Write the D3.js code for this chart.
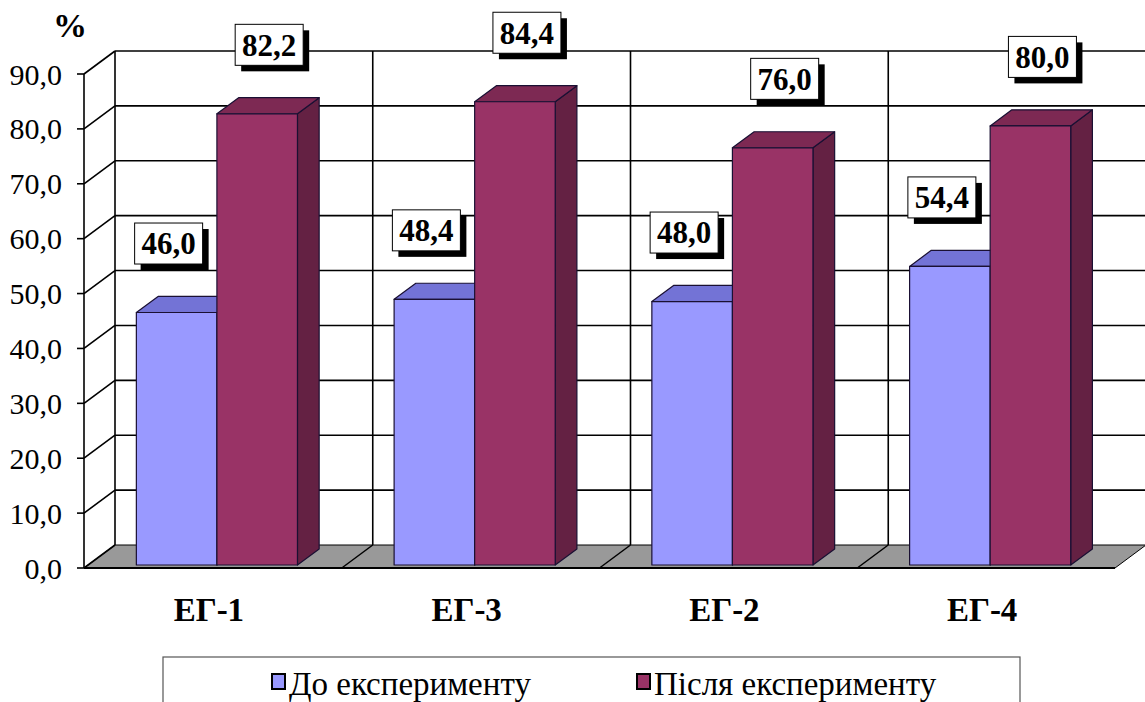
<!DOCTYPE html>
<html>
<head>
<meta charset="utf-8">
<script src="https://cdn.jsdelivr.net/npm/d3@7"></script>
<style>
  html, body { margin: 0; padding: 0; background: #fff; }
  svg { display: block; }
</style>
</head>
<body>
<script>
// ---- data ----
const categories = ["ЕГ-1", "ЕГ-3", "ЕГ-2", "ЕГ-4"];
const seriesNames = ["До експерименту", "Після експерименту"];
const beforeValues = [46.0, 48.4, 48.0, 54.4];
const afterValues = [82.2, 84.4, 76.0, 80.0];
const yTickValues = [0, 10, 20, 30, 40, 50, 60, 70, 80, 90];
const yUnit = "%";

// ---- layout ----
const W = 1145, H = 702;
const FONT = "'Liberation Serif', 'Times New Roman', 'DejaVu Serif', serif";
const svg = d3.select("body").append("svg").attr("width", W).attr("height", H)
  .attr("font-family", FONT).style("font-family", FONT);

const frontLeft = 84, frontRight = 1115;
const depthDX = 31, depthDY = -23;
const barZ0 = 0.13, barZ1 = 0.83;
const y = d3.scaleLinear().domain([0, 90]).range([568, 74]);
const x = d3.scaleBand().domain(categories).range([frontLeft, frontRight]).paddingInner(0).paddingOuter(0);
const groupFrac = 0.625;
const xs = d3.scaleBand().domain(seriesNames).range([0, x.bandwidth() * groupFrac]);

const fmt = v => d3.format(".1f")(v).replace(".", ",");
const P = (px, v, z) => [px + z * depthDX, y(v) + z * depthDY];
const poly = pts => pts.map(p => p.join(",")).join(" ");

const colors = {
  [seriesNames[0]]: { front: "#9999FF", top: "#7373D6", side: "#6B6BB3" },
  [seriesNames[1]]: { front: "#993366", top: "#7D2953", side: "#642143" }
};

// floor
const floor = svg.append("g");
floor.append("polygon")
  .attr("points", poly([P(frontLeft, 0, 0), P(frontLeft, 0, 1), P(frontRight, 0, 1), P(frontRight, 0, 0)]))
  .attr("fill", "#999999").attr("stroke", "#000").attr("stroke-width", 1);
categories.slice(1).forEach(c => {
  const px = x(c);
  floor.append("line")
    .attr("x1", P(px, 0, 0)[0]).attr("y1", P(px, 0, 0)[1])
    .attr("x2", P(px, 0, 1)[0]).attr("y2", P(px, 0, 1)[1])
    .attr("stroke", "#000").attr("stroke-width", 1.5);
});

// back wall gridlines + side wall diagonals
const grid = svg.append("g").attr("stroke", "#000").attr("stroke-width", 1.6).attr("fill", "none");
yTickValues.forEach(v => {
  const a = P(frontLeft, v, 1), f = P(frontLeft, v, 0);
  if (v !== 0) {
    const b = P(frontRight + 40, v, 1);
    grid.append("line").attr("x1", a[0]).attr("y1", a[1]).attr("x2", b[0]).attr("y2", b[1]);
  }
  grid.append("line").attr("x1", f[0]).attr("y1", f[1]).attr("x2", a[0]).attr("y2", a[1]);
});
categories.forEach(c => {
  const px = x(c);
  const a = P(px, 0, 1), b = P(px, 90, 1);
  grid.append("line").attr("x1", a[0]).attr("y1", a[1]).attr("x2", b[0]).attr("y2", b[1]);
});

// front y axis
const axisG = svg.append("g");
axisG.append("line").attr("x1", frontLeft).attr("x2", frontLeft).attr("y1", y(0)).attr("y2", y(90))
  .attr("stroke", "#000").attr("stroke-width", 1.6);
axisG.append("line").attr("x1", frontLeft).attr("x2", frontRight).attr("y1", y(0)).attr("y2", y(0))
  .attr("stroke", "#000").attr("stroke-width", 2.2);
yTickValues.forEach(v => {
  axisG.append("line").attr("x1", frontLeft - 7).attr("x2", frontLeft).attr("y1", y(v)).attr("y2", y(v))
    .attr("stroke", "#000").attr("stroke-width", 1.6);
  axisG.append("text").attr("x", 62).attr("y", y(v)).attr("dy", "0.35em")
    .attr("text-anchor", "end").attr("font-size", 30).attr("fill", "#000").text(fmt(v));
});
svg.append("text").attr("x", 70).attr("y", 37).attr("text-anchor", "middle")
  .attr("font-size", 34).attr("font-weight", "bold").text(yUnit);

// bars
const bars = [];
categories.forEach((c, i) => {
  [beforeValues[i], afterValues[i]].forEach((v, s) => bars.push({ c, s: seriesNames[s], v }));
});
const barG = svg.append("g").attr("stroke", "#1a1033").attr("stroke-width", 1.2).attr("stroke-linejoin", "round");
bars.forEach(d => {
  const x0 = x(d.c) + (x.bandwidth() * (1 - groupFrac)) / 2 + xs(d.s);
  const x1 = x0 + xs.bandwidth();
  const col = colors[d.s];
  const fbl = P(x0, 0, barZ0), fbr = P(x1, 0, barZ0), ftl = P(x0, d.v, barZ0), ftr = P(x1, d.v, barZ0);
  const btl = P(x0, d.v, barZ1), btr = P(x1, d.v, barZ1), bbr = P(x1, 0, barZ1);
  barG.append("polygon").attr("points", poly([fbr, bbr, btr, ftr])).attr("fill", col.side);
  barG.append("polygon").attr("points", poly([ftl, btl, btr, ftr])).attr("fill", col.top);
  barG.append("polygon").attr("points", poly([fbl, fbr, ftr, ftl])).attr("fill", col.front);
  d.cx = (x0 + x1) / 2 + barZ0 * depthDX;
  d.top = ftl[1];
});

// data labels
const labelOffsets = { [seriesNames[0]]: -8, [seriesNames[1]]: 12 };
const lab = svg.append("g");
bars.forEach(d => {
  const cx = d.cx + labelOffsets[d.s], cy = d.top - 69;
  const bw = 68, bh = 41;
  lab.append("rect").attr("x", cx - bw / 2 + 6).attr("y", cy - bh / 2 + 6).attr("width", bw).attr("height", bh).attr("fill", "#000");
  lab.append("rect").attr("x", cx - bw / 2).attr("y", cy - bh / 2).attr("width", bw).attr("height", bh)
    .attr("fill", "#fff").attr("stroke", "#000").attr("stroke-width", 1);
  lab.append("text").attr("x", cx).attr("y", cy).attr("dy", "0.35em").attr("text-anchor", "middle")
    .attr("font-size", 31).attr("font-weight", "bold").text(fmt(d.v));
});

// category labels
categories.forEach(c => {
  svg.append("text").attr("x", x(c) + x.bandwidth() / 2 - 4).attr("y", 621)
    .attr("text-anchor", "middle").attr("font-size", 33).attr("font-weight", "bold").text(c);
});

// legend
const leg = svg.append("g");
leg.append("rect").attr("x", 163).attr("y", 657).attr("width", 857).attr("height", 60)
  .attr("fill", "#fff").attr("stroke", "#555").attr("stroke-width", 1.2);
const legX = [272, 637];
seriesNames.forEach((s, i) => {
  leg.append("rect").attr("x", legX[i]).attr("y", 674).attr("width", 13).attr("height", 15)
    .attr("fill", colors[s].front).attr("stroke", "#000").attr("stroke-width", 2);
  leg.append("text").attr("x", legX[i] + 17).attr("y", 695).attr("font-size", 33).text(s);
});
</script>
</body>
</html>
